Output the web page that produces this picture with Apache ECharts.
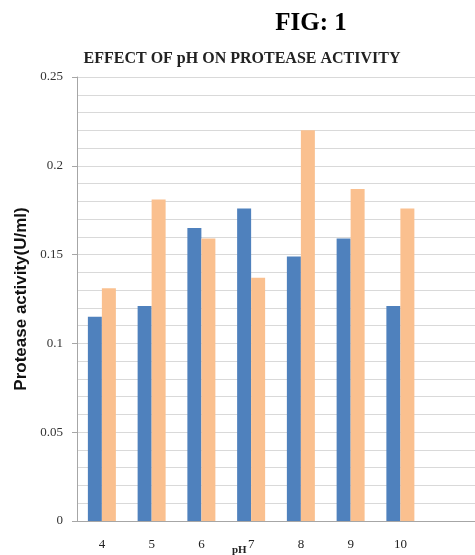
<!DOCTYPE html>
<html>
<head>
<meta charset="utf-8">
<script src="https://cdn.jsdelivr.net/npm/echarts@6/dist/echarts.min.js"></script>
<style>
  html, body { margin: 0; padding: 0; background: #fff; }
  #chart { width: 475px; height: 555px; }
</style>
</head>
<body>
<div id="chart"></div>
<script>
// pH values (last slot left empty like the original sheet)
const phLabels = ['4', '5', '6', '7', '8', '9', '10', '']
const seriesA = [0.115, 0.121, 0.165, 0.176, 0.149, 0.159, 0.121, null]
const seriesB = [0.131, 0.181, 0.159, 0.137, 0.220, 0.187, 0.176, null]
const yTicks = { min: 0, max: 0.25, interval: 0.05 }

const serif = '"Liberation Serif", "DejaVu Serif", serif'
const sans = '"Liberation Sans", Arial, sans-serif'

const chart = echarts.init(document.getElementById('chart'))
chart.setOption({
  animation: false,
  backgroundColor: '#fff',
  title: [
    {
      text: 'FIG: 1',
      left: 306,
      top: 6,
      textAlign: 'center',
      textStyle: { fontFamily: serif, fontSize: 25, fontWeight: 'bold', color: '#000' }
    },
    {
      text: 'EFFECT OF pH ON PROTEASE ACTIVITY',
      left: 237,
      top: 46,
      textAlign: 'center',
      textStyle: { fontFamily: serif, fontSize: 16, fontWeight: 'bold', color: '#222' }
    }
  ],
  graphic: [{
    type: 'text',
    left: 232,
    top: 545,
    style: { text: 'pH', font: 'bold 11px ' + serif, fill: '#222' }
  }],
  grid: { left: 77, right: -2, top: 77, bottom: 34 },
  xAxis: {
    type: 'category',
    data: phLabels,
    axisLine: { lineStyle: { color: '#a6a6a6' } },
    axisTick: { show: false },
    axisLabel: { fontFamily: serif, fontSize: 13, color: '#222', margin: 17 }
  },
  yAxis: {
    type: 'value',
    min: yTicks.min,
    max: yTicks.max,
    interval: yTicks.interval,
    name: 'Protease activity(U/ml)',
    nameLocation: 'middle',
    nameGap: 47,
    nameTextStyle: { fontFamily: sans, fontSize: 17, fontWeight: 'bold', color: '#111' },
    axisLine: { show: true, lineStyle: { color: '#a6a6a6' } },
    axisTick: { show: true, length: 5, lineStyle: { color: '#a6a6a6' } },
    axisLabel: {
      fontFamily: serif, fontSize: 13, color: '#333', margin: 14,
      formatter: v => String(+v.toFixed(2))
    },
    splitLine: { lineStyle: { color: '#d9d9d9' } },
    minorTick: { show: false, splitNumber: 5 },
    minorSplitLine: { show: true, lineStyle: { color: '#d9d9d9' } }
  },
  series: [
    {
      type: 'bar',
      data: seriesA,
      barWidth: 14,
      barGap: 0,
      itemStyle: { color: '#4f81bd' }
    },
    {
      type: 'bar',
      data: seriesB,
      barWidth: 14,
      itemStyle: { color: '#fac08f' }
    }
  ]
})
</script>
</body>
</html>
